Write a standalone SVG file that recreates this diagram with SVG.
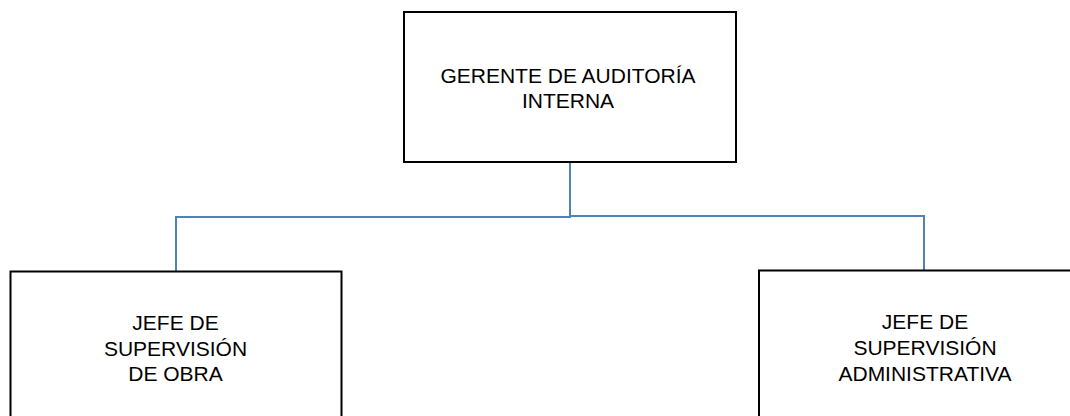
<svg xmlns="http://www.w3.org/2000/svg" width="1070" height="416" viewBox="0 0 1070 416">
  <style>
    .box { fill: #ffffff; stroke: #000000; stroke-width: 2; }
    .conn { fill: none; stroke: #4F81BD; stroke-width: 2; }
    .lbl { font-family: "Liberation Sans", Arial, sans-serif; font-size: 21px; fill: #000000; text-anchor: middle; }
  </style>
  <rect width="1070" height="416" fill="#ffffff"/>
  <g id="connectors">
    <path class="conn" d="M570 162 V217 H176 V271"/>
    <path class="conn" d="M570 216 H924 V271"/>
  </g>
  <g id="gerente">
    <rect class="box" x="404" y="12" width="332" height="150"/>
    <text class="lbl" x="568" y="83">GERENTE DE AUDITORÍA</text>
    <text class="lbl" x="568" y="108">INTERNA</text>
  </g>
  <g id="jefe-obra">
    <rect class="box" x="10.5" y="271.5" width="331" height="160"/>
    <text class="lbl" x="175.5" y="330">JEFE DE</text>
    <text class="lbl" x="175.5" y="355.5">SUPERVISIÓN</text>
    <text class="lbl" x="175.5" y="381">DE OBRA</text>
  </g>
  <g id="jefe-administrativa">
    <rect class="box" x="759" y="270.5" width="331" height="160"/>
    <text class="lbl" x="925" y="329">JEFE DE</text>
    <text class="lbl" x="925" y="355">SUPERVISIÓN</text>
    <text class="lbl" x="925" y="380.5">ADMINISTRATIVA</text>
  </g>
</svg>
